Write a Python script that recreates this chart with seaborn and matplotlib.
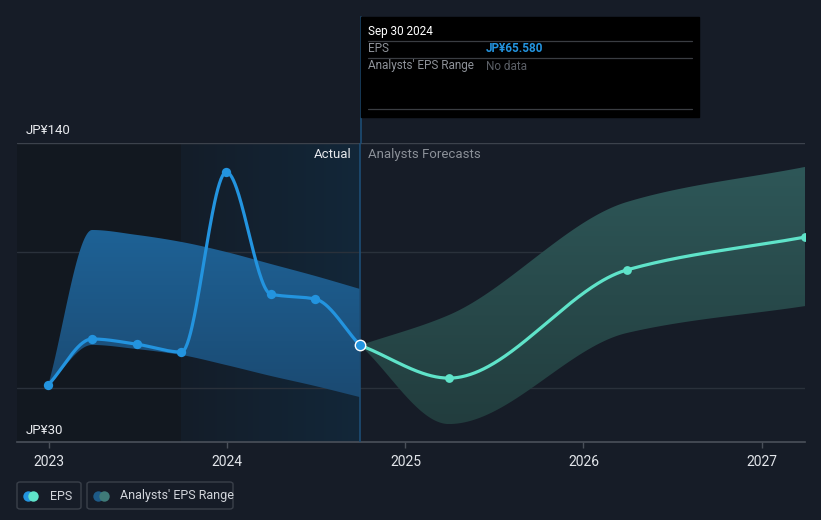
import numpy as np
import pandas as pd
import matplotlib
matplotlib.use("Agg")
import matplotlib.pyplot as plt
import matplotlib.dates as mdates
from matplotlib.colors import to_rgba
from matplotlib.lines import Line2D
from matplotlib.patches import Rectangle, FancyBboxPatch
import seaborn as sns

# ---------------------------------------------------------
# data
# ---------------------------------------------------------
eps_dates = ['2022-12-31', '2023-03-31', '2023-06-30', '2023-09-30',
             '2023-12-31', '2024-03-31', '2024-06-30', '2024-09-30']
eps_vals = [51.0, 67.9, 66.0, 63.1, 129.3, 84.4, 82.6, 65.58]
past_hi = [51.0, 108.0, 106.2, 103.6, 99.9, 95.5, 91.1, 86.3]
past_lo = [51.0, 65.7, 64.2, 62.0, 58.3, 54.3, 50.6, 46.5]

fc_dates = ['2024-09-30', '2025-03-31', '2026-03-31', '2027-03-31']
fc_vals = [65.58, 53.5, 93.3, 105.4]
fc_hi = [65.58, 76.7, 118.3, 131.2]
fc_lo = [65.58, 36.6, 70.1, 80.0]

year_ticks = ['2023', '2024', '2025', '2026', '2027']
y_labels = ['JP¥140', 'JP¥30']

# colours
BG = '#161c27'
DARK = '#121820'
EPS_C = '#2394df'
FC_C = '#5fe3c9'
VLINE = '#1d4d75'


def pchip(x, y, xs):
    # monotone cubic (same look as the site's smoothed lines)
    x = np.asarray(x, float)
    y = np.asarray(y, float)
    h = np.diff(x)
    d = np.diff(y) / h
    m = np.zeros_like(y)
    for k in range(1, len(y) - 1):
        if d[k - 1] * d[k] > 0:
            w1 = 2 * h[k] + h[k - 1]
            w2 = h[k] + 2 * h[k - 1]
            m[k] = (w1 + w2) / (w1 / d[k - 1] + w2 / d[k])
    m[0] = d[0]
    m[-1] = d[-1]
    out = np.empty_like(xs)
    for i, xv in enumerate(xs):
        k = min(np.searchsorted(x, xv, side='right') - 1, len(x) - 2)
        k = max(k, 0)
        t = (xv - x[k]) / h[k]
        h00 = 2 * t**3 - 3 * t**2 + 1
        h10 = t**3 - 2 * t**2 + t
        h01 = -2 * t**3 + 3 * t**2
        h11 = t**3 - t**2
        out[i] = h00 * y[k] + h10 * h[k] * m[k] + h01 * y[k + 1] + h11 * h[k] * m[k + 1]
    return out


def gradient_fill(ax, x, lo, hi, c_top, c_bot, zorder=2):
    poly = ax.fill_between(x, lo, hi, color='none', lw=0)
    grad = np.linspace(0, 1, 256)[:, None, None]
    top = np.array(to_rgba(c_top))
    bot = np.array(to_rgba(c_bot))
    img = bot + (top - bot) * grad
    im = ax.imshow(img, extent=[x.min(), x.max(), min(lo), max(hi)],
                   origin='lower', aspect='auto', zorder=zorder, interpolation='bilinear')
    im.set_clip_path(poly.get_paths()[0], transform=ax.transData)


sns.set_theme(style="dark", rc={"axes.facecolor": BG, "figure.facecolor": BG})
plt.rcParams['font.family'] = ['Roboto', 'DejaVu Sans']

W, H = 821, 520
fig = plt.figure(figsize=(W / 100, H / 100), dpi=100)
ax = fig.add_axes([17 / W, 1 - 442 / H, (805 - 17) / W, (442 - 143) / H])
ax.set_facecolor(BG)


def fx(px):
    return px / W


def fy(py):
    return 1 - py / H


eps_x = mdates.date2num(pd.to_datetime(eps_dates))
fc_x = mdates.date2num(pd.to_datetime(fc_dates))
x_left = mdates.date2num(pd.Timestamp('2022-10-28'))
x_right = mdates.date2num(pd.Timestamp('2027-03-31'))

# background zones: darker past, highlighted last year
ax.axvspan(x_left, eps_x[3], color=DARK, zorder=0, lw=0)
hl = np.linspace(0, 1, 256)[None, :, None]
c_l = np.array(to_rgba('#141d29'))
c_r = np.array(to_rgba('#122739'))
ax.imshow(c_l + (c_r - c_l) * hl, extent=[eps_x[3], eps_x[-1], 30, 140],
          origin='lower', aspect='auto', zorder=0.5)

# grid lines
for yv in [100, 50]:
    ax.axhline(yv, color='#2a313b', lw=1, zorder=1)
ax.axhline(140, color='#3c424c', lw=1, zorder=1)

# bands
xs_p = np.linspace(eps_x[0], eps_x[-1], 400)
gradient_fill(ax, xs_p, pchip(eps_x, past_lo, xs_p), pchip(eps_x, past_hi, xs_p),
              '#1e6296', '#1b4a72', zorder=2)
xs_f = np.linspace(fc_x[0], fc_x[-1], 400)
gradient_fill(ax, xs_f, pchip(fc_x, fc_lo, xs_f), pchip(fc_x, fc_hi, xs_f),
              '#2e5758', '#223d3e', zorder=2)

# "today" line inside the axes, under the marker
ax.axvline(eps_x[-1], color=VLINE, lw=1.2, zorder=3)

# lines
past_line = pd.DataFrame({'x': xs_p, 'y': pchip(eps_x, eps_vals, xs_p)})
fc_line = pd.DataFrame({'x': xs_f, 'y': pchip(fc_x, fc_vals, xs_f)})
sns.lineplot(data=past_line, x='x', y='y', ax=ax, color=EPS_C, lw=2.3, zorder=4, sort=False)
sns.lineplot(data=fc_line, x='x', y='y', ax=ax, color=FC_C, lw=2.3, zorder=4, sort=False)
sns.scatterplot(x=eps_x[:-1], y=eps_vals[:-1], ax=ax, color=EPS_C, s=45, lw=0, zorder=5)
sns.scatterplot(x=fc_x[1:], y=fc_vals[1:], ax=ax, color=FC_C, s=40, lw=0, zorder=5)
ax.plot([eps_x[-1]], [eps_vals[-1]], marker='o', markersize=7.5, markerfacecolor=EPS_C,
        markeredgecolor='white', markeredgewidth=1.0, zorder=7, clip_on=False)

ax.set_xlim(x_left, x_right)
ax.set_ylim(30, 140)
ax.set_xlabel('')
ax.set_ylabel('')
ax.set_yticks([])
ax.set_xticks(mdates.date2num(pd.to_datetime([f'{y}-01-01' for y in year_ticks])))
ax.set_xticklabels(year_ticks, color='#e2e5ea', fontsize=10)
ax.tick_params(axis='x', length=4, width=1, color='#4a505a', pad=5, bottom=True)
for s in ['top', 'left', 'right']:
    ax.spines[s].set_visible(False)
ax.spines['bottom'].set_color('#4a505a')
ax.spines['bottom'].set_linewidth(1.2)
ax.grid(False)

# y labels
fig.text(fx(26), fy(130), y_labels[0], color='#e8eaee', fontsize=9.5, va='center')
fig.text(fx(26), fy(430), y_labels[1], color='#e8eaee', fontsize=9.5, va='center')

# actual / forecast labels
fig.text(fx(352), fy(154), 'Actual', color='#e6e8ec', fontsize=9.5, va='center', ha='right')
fig.text(fx(368), fy(154), 'Analysts Forecasts', color='#8b9098', fontsize=9.5, va='center')

# vertical line above the axes + tooltip
fig.add_artist(Line2D([fx(360.5), fx(360.5)], [fy(17), fy(143)], color=VLINE, lw=1.2))
fig.add_artist(Rectangle((fx(361), fy(117)), fx(699) - fx(361), fy(17) - fy(117),
                         transform=fig.transFigure, color='#000000', zorder=10))
for py in [41, 58, 109]:
    fig.add_artist(Line2D([fx(368), fx(692)], [fy(py), fy(py)], color='#3a3d42', lw=0.9, zorder=11))
fig.text(fx(368), fy(31), 'Sep 30 2024', color='#ffffff', fontsize=8.5, va='center', zorder=12)
fig.text(fx(368), fy(49), 'EPS', color='#8e9299', fontsize=8.5, va='center', zorder=12)
fig.text(fx(486), fy(49), 'JP¥65.580', color=EPS_C, fontsize=8.5, va='center',
         fontweight='bold', zorder=12)
fig.text(fx(368), fy(66), "Analysts' EPS Range", color='#8e9299', fontsize=8.5, va='center', zorder=12)
fig.text(fx(486), fy(66), 'No data', color='#5b5f66', fontsize=8.5, va='center', zorder=12)

# legend boxes
for x0, x1 in [(17, 81), (87, 233)]:
    fig.add_artist(FancyBboxPatch((fx(x0), fy(509)), fx(x1) - fx(x0), fy(482) - fy(509),
                                  boxstyle='round,pad=0,rounding_size=0.004',
                                  transform=fig.transFigure, facecolor='none',
                                  edgecolor='#3a404a', lw=1))
for px, col in [(28, EPS_C), (33, FC_C), (98, '#1d5a87'), (104, '#3f7a78')]:
    fig.add_artist(Line2D([fx(px)], [fy(496)], marker='o', markersize=7.5, color=col,
                          markeredgewidth=0, transform=fig.transFigure))
fig.text(fx(50), fy(496), 'EPS', color='#d2d5db', fontsize=9, va='center')
fig.text(fx(120), fy(496), "Analysts' EPS Range", color='#d2d5db', fontsize=9, va='center')

plt.savefig('out.png', dpi=100, facecolor=BG)
